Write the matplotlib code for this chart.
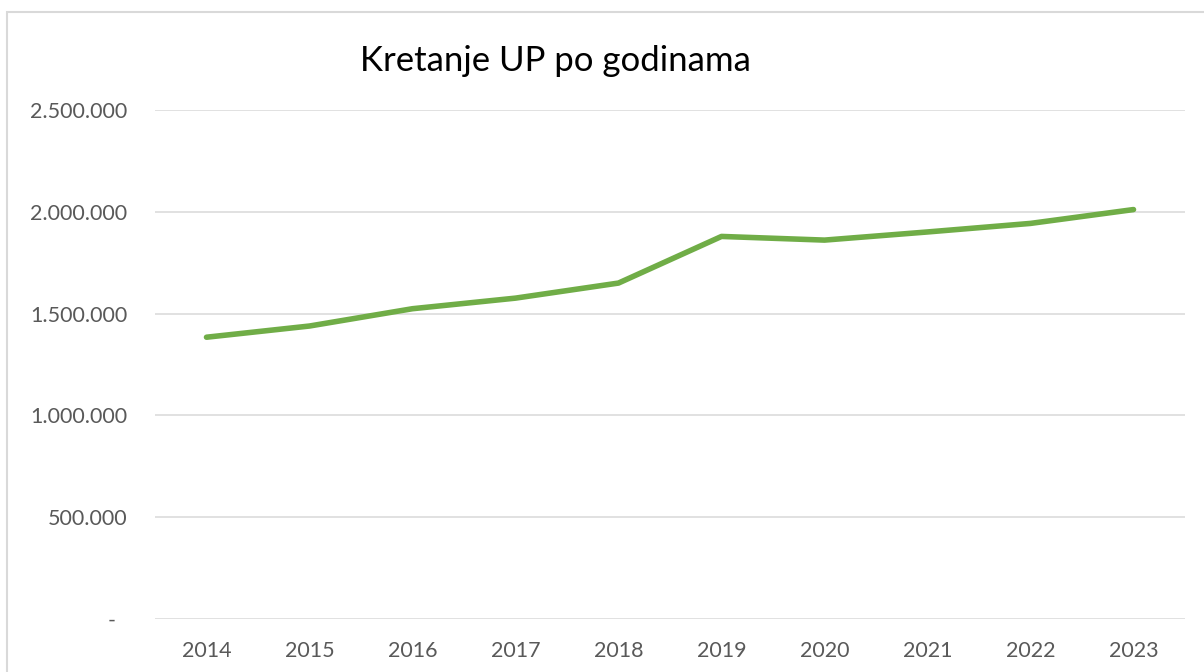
"""
plot.py - Kretanje UP po godinama, Excel style line chart.
"""
import matplotlib
matplotlib.use('Agg')
import matplotlib.pyplot as plt
from matplotlib.patches import Rectangle
from matplotlib.ticker import FuncFormatter

years = ['2014', '2015', '2016', '2017', '2018', '2019', '2020', '2021', '2022', '2023']
values = [1384000, 1439000, 1524000, 1576000, 1650000, 1879000, 1861000, 1901000, 1943000, 2011000]
yticks = [0, 500000, 1000000, 1500000, 2000000, 2500000]
title = 'Kretanje UP po godinama'

plt.rcParams['font.family'] = ['Lato', 'DejaVu Sans']

grey = '#595959'
green = '#70AD47'


def fmt(v, pos):
    # accounting style: dot thousands, dash for zero
    if v == 0:
        return '-  '
    return '{:,.0f}'.format(v).replace(',', '.')


fig = plt.figure(figsize=(12.04, 6.72), dpi=100)
ax = fig.add_axes([155 / 1204, 1 - 619 / 672, 1030 / 1204, 509 / 672])

x = list(range(len(years)))
ax.plot(x, values, color=green, linewidth=4, solid_capstyle='round', solid_joinstyle='round', zorder=3)

ax.set_xlim(-0.5, len(years) - 0.5)
ax.set_ylim(0, 2500000)
ax.set_yticks(yticks)
ax.yaxis.set_major_formatter(FuncFormatter(fmt))
ax.set_xticks(x)
ax.set_xticklabels(years)

ax.grid(axis='y', color='#d9d9d9', linewidth=1.1)
ax.set_axisbelow(True)
for s in ax.spines.values():
    s.set_visible(False)
ax.tick_params(axis='both', length=0, labelsize=15.5, labelcolor=grey)
ax.tick_params(axis='y', pad=20)
ax.tick_params(axis='x', pad=16)

fig.text(555 / 1204, 1 - 61 / 672, title, ha='center', va='center', fontsize=25, color='black')

# chart border, cut at right and bottom like the screenshot
fig.patches.append(Rectangle((7 / 1204, -0.1), 1.2, 1.1 - 12 / 672, transform=fig.transFigure,
                             fill=False, edgecolor='#d9d9d9', linewidth=1.5))

fig.savefig('out.png', dpi=100)
